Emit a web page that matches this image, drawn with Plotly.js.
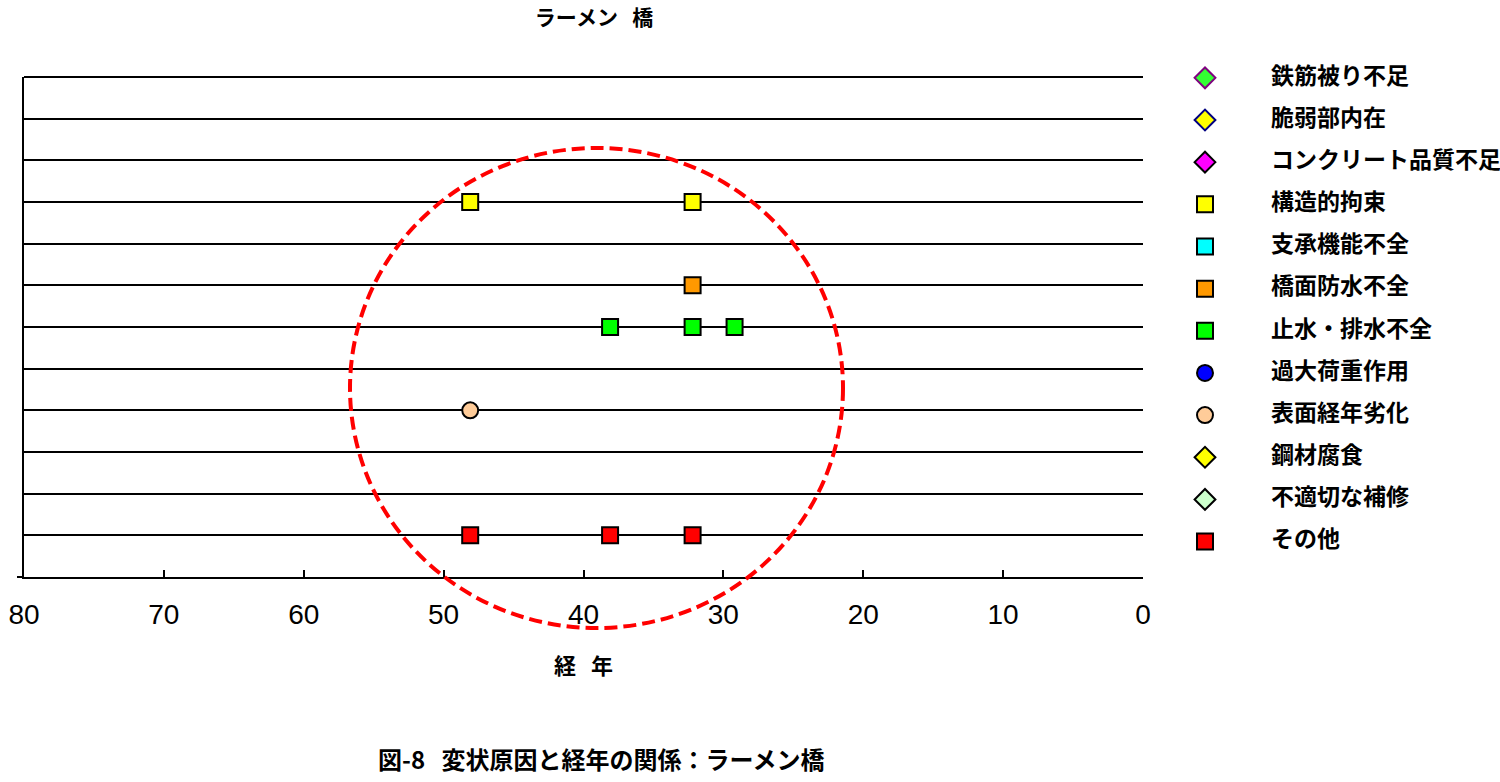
<!DOCTYPE html>
<html>
<head>
<meta charset="utf-8">
<script src="https://cdn.plot.ly/plotly-3.0.1.min.js"></script>
<style>html,body{margin:0;padding:0;background:#fff;}#chart{width:1500px;height:782px;}</style>
</head>
<body>
<div id="chart"></div>
<script>
// ---- data ----
const categories = ['鉄筋被り不足','脆弱部内在','コンクリート品質不足','構造的拘束','支承機能不全','橋面防水不全','止水・排水不全','過大荷重作用','表面経年劣化','鋼材腐食','不適切な補修','その他'];
const catSymbols = ['diamond','diamond','diamond','square','square','square','square','circle','circle','diamond','diamond','square'];
const catFill = ['#33ff33','#ffff00','#ff00ff','#ffff00','#00ffff','#ff9900','#00ff00','#0000ff','#ffcc99','#ffff00','#ccffcc','#ff0000'];
const catOutline = ['#800080','#000080','#000000','#000000','#000000','#000000','#000000','#000000','#000000','#000000','#000000','#000000'];
// row value for each category (top row = 12)
const catRow = [12,11,10,9,8,7,6,5,4,3,2,1];

// years (経年) observed per category
const yearsKozo = [48.1, 32.2];          // 構造的拘束
const yearsKyomen = [32.2];              // 橋面防水不全
const yearsShisui = [38.1, 32.2, 29.2];  // 止水・排水不全
const yearsHyomen = [48.1];              // 表面経年劣化
const yearsSonota = [48.1, 38.1, 32.2];  // その他

const xTicks = [80,70,60,50,40,30,20,10,0];

const seriesList = [
  {idx: 3, years: yearsKozo},
  {idx: 5, years: yearsKyomen},
  {idx: 6, years: yearsShisui},
  {idx: 8, years: yearsHyomen},
  {idx: 11, years: yearsSonota}
];

const jp = '"Noto Sans CJK JP", "Noto Sans", sans-serif';
const num = '"Liberation Sans", Arial, sans-serif';

const traces = seriesList.map(s => ({
  type: 'scatter', mode: 'markers',
  name: categories[s.idx],
  x: s.years,
  y: s.years.map(() => catRow[s.idx]),
  xaxis: 'x', yaxis: 'y',
  cliponaxis: false,
  showlegend: false,
  marker: {symbol: catSymbols[s.idx], size: 16, color: catFill[s.idx], line: {color: catOutline[s.idx], width: 2}}
}));

// custom legend (markers + labels) on a hidden side axis
traces.push({
  type: 'scatter', mode: 'markers',
  x: categories.map(() => 62), y: catRow,
  xaxis: 'x2', yaxis: 'y2', cliponaxis: false, showlegend: false, hoverinfo: 'skip',
  marker: {symbol: catSymbols, size: 16, color: catFill, line: {color: catOutline, width: 2}}
});
traces.push({
  type: 'scatter', mode: 'text',
  x: categories.map(() => 128), y: catRow,
  text: categories, textposition: 'middle right',
  xaxis: 'x2', yaxis: 'y2', cliponaxis: false, showlegend: false, hoverinfo: 'skip',
  textfont: {family: jp, size: 23, color: '#000', weight: 'bold'}
});

const layout = {
  width: 1500, height: 782,
  margin: {l: 24, r: 0, t: 77, b: 205},
  paper_bgcolor: '#fff', plot_bgcolor: '#fff',
  showlegend: false,
  title: {text: 'ラーメン&nbsp;&nbsp;&nbsp;橋', font: {family: jp, size: 21, color: '#000', weight: 'bold'},
          x: 594/1500, xref: 'container', xanchor: 'center', y: 1 - 18/782, yref: 'container', yanchor: 'middle'},
  xaxis: {
    domain: [0, 1119/1476], range: [80, 0], tickvals: xTicks, ticktext: xTicks.map(String),
    ticks: 'inside', ticklen: 7, tickwidth: 2, tickcolor: '#000',
    showline: true, linecolor: '#000', linewidth: 2, showgrid: false, zeroline: false,
    tickfont: {family: num, size: 28, color: '#000'}, ticklabelstandoff: 11,
    title: {text: '経&nbsp;&nbsp;&nbsp;年', font: {family: jp, size: 22, color: '#000', weight: 'bold'}, standoff: 30},
    anchor: 'y', fixedrange: true
  },
  yaxis: {
    domain: [0, 1], range: [0, 12], tickvals: catRow.concat([0]), showticklabels: false, ticks: '',
    showgrid: true, gridcolor: '#000', gridwidth: 2, showline: true, linecolor: '#000', linewidth: 2,
    zeroline: false, anchor: 'x', fixedrange: true
  },
  xaxis2: {domain: [1119/1476, 1], range: [0, 357], visible: false, anchor: 'y2', fixedrange: true},
  yaxis2: {domain: [0, 1], range: [0.16, 12.02], visible: false, anchor: 'x2', fixedrange: true},
  shapes: [
    {type: 'line', xref: 'x domain', yref: 'y domain', x0: 0, x1: 1, y0: 1, y1: 1,
     line: {color: '#000', width: 2}, layer: 'below'},
    {type: 'line', xref: 'x domain', yref: 'y domain', x0: -7/1119, x1: 0, y0: 0, y1: 0,
     line: {color: '#000', width: 2}, layer: 'below'},
    {type: 'circle', xref: 'x domain', yref: 'y domain',
     x0: (350-24)/1119, x1: (843-24)/1119, y0: (577-628)/500, y1: (577-148)/500,
     line: {color: '#ff0000', width: 4, dash: '13px,6px'}, layer: 'above'}
  ],
  annotations: [{
    text: '図-8&nbsp;&nbsp;&nbsp;変状原因と経年の関係：ラーメン橋', xref: 'paper', yref: 'paper',
    x: (601-24)/1476, y: (577-758)/500, xanchor: 'center', yanchor: 'middle', showarrow: false,
    font: {family: jp, size: 24, color: '#000', weight: 'bold'}
  }]
};

Plotly.newPlot('chart', traces, layout, {displayModeBar: false, staticPlot: true});
</script>
</body>
</html>
